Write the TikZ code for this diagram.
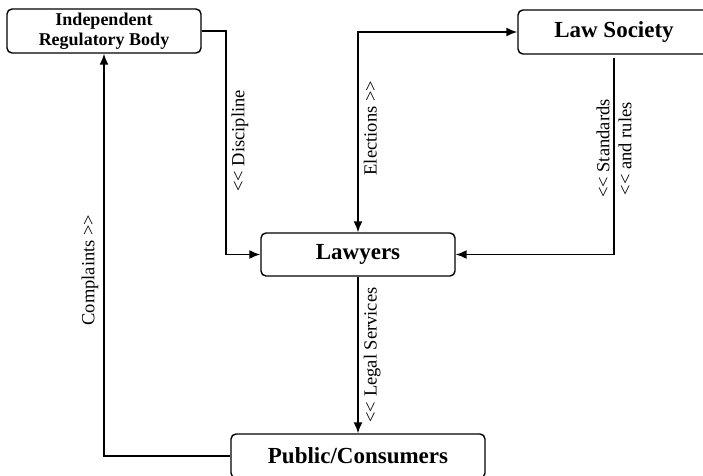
\documentclass[tikz,border=0pt]{standalone}
\usepackage{fontspec}
\setmainfont{Liberation Serif}
\usetikzlibrary{arrows.meta}

\begin{document}
\begin{tikzpicture}[x=1pt,y=1pt,
  box/.style={draw, line width=1.4pt, rounded corners=5pt, inner sep=0pt,
    font=\bfseries\fontsize{23}{25}\selectfont},
  flow/.style={line width=1.6pt, -{Latex[length=11pt,width=9pt]}},
  twoway/.style={line width=1.6pt, {Latex[length=11pt,width=9pt]}-{Latex[length=11pt,width=9pt]}},
  lbl/.style={font=\fontsize{18.5}{22}\selectfont, inner sep=5pt}]

  \useasboundingbox (0,0) rectangle (703,-475);

  \node[box, minimum width=194pt, minimum height=44pt, align=center,
    font=\bfseries\fontsize{18}{19.5}\selectfont] (irb) at (104,-31) {Independent\\Regulatory Body};
  \node[box, minimum width=192pt, minimum height=44pt] (lawsoc) at (614,-32) {Law Society};
  \node[box, minimum width=194pt, minimum height=43pt] (lawyers) at (358,-254.5) {Lawyers};
  \node[box, minimum width=254pt, minimum height=44pt] (public) at (358,-456) {Public/Consumers};

  \draw[flow] (irb.east) -- ++(24,0) |- (lawyers.west)
    node[pos=0.246, lbl, rotate=90, anchor=north] {<{}< Discipline};
  \draw[twoway] (lawsoc.west) -| (lawyers.north)
    node[pos=0.74, lbl, rotate=90, anchor=north] {Elections >{}>};
  \draw[flow, shorten <=3pt] (lawsoc.south) |- (lawyers.east)
    node[pos=0.235, lbl, rotate=90, align=center, inner sep=0pt] {<{}< Standards\\<{}< and rules};
  \draw[flow] (lawyers.south) -- (public.north)
    node[pos=0.5, lbl, rotate=90, anchor=north] {<{}< Legal Services};
  \draw[flow] (public.west) -| (irb.south)
    node[pos=0.731, lbl, rotate=90, anchor=south] {Complaints >{}>};

\end{tikzpicture}
\end{document}
